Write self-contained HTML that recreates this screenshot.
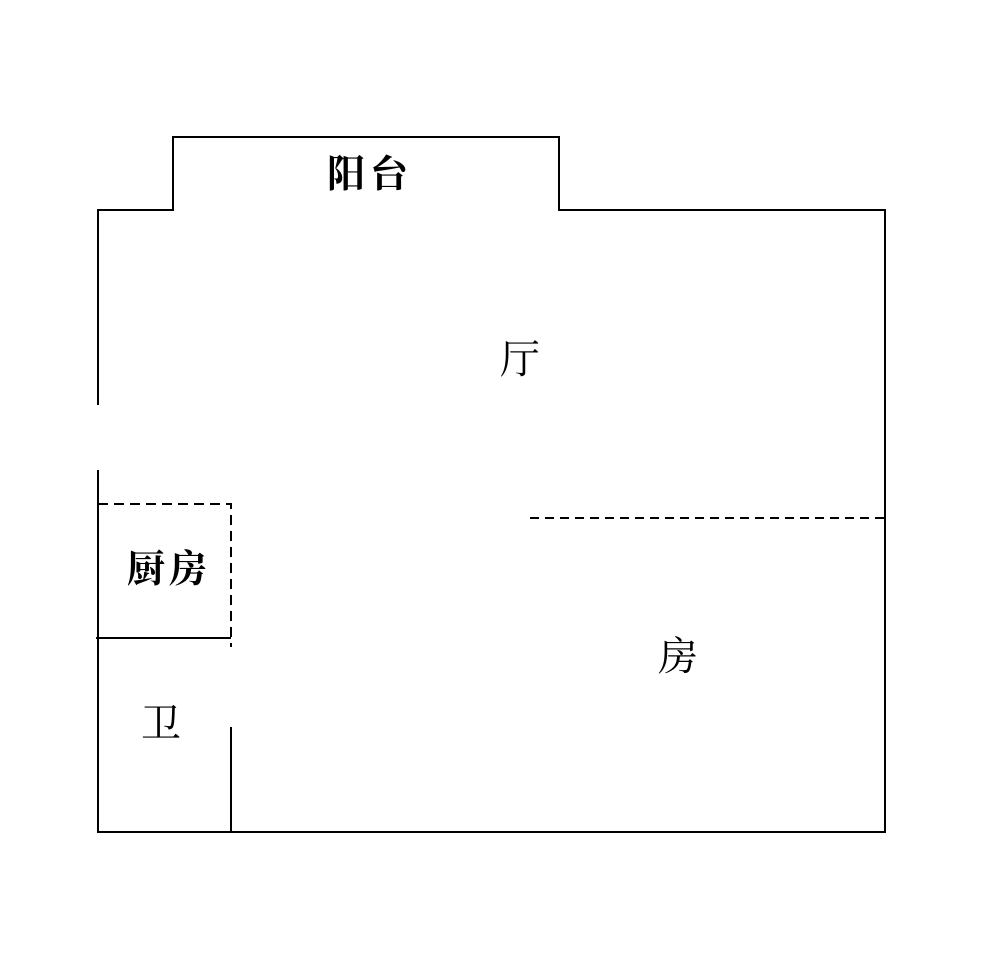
<!DOCTYPE html>
<html><head><meta charset="utf-8"><style>
html,body{margin:0;padding:0;background:#fff;}
</style></head><body>
<svg width="1000" height="952" viewBox="0 0 1000 952" xmlns="http://www.w3.org/2000/svg">
<g stroke="#000" stroke-width="2" fill="none">
<polyline points="98,405 98,210 173,210 173,137 559,137 559,210 885,210 885,832 98,832 98,470"/>
<line x1="96" y1="638" x2="231" y2="638"/>
<line x1="231" y1="727" x2="231" y2="832"/>
<polyline points="98,504 231,504 231,647" stroke-dasharray="10,6"/>
<line x1="530" y1="518" x2="885" y2="518" stroke-dasharray="9,6"/>
</g>
<g font-family="'Liberation Serif','Noto Serif CJK SC',serif" fill="#000">
<text x="327" y="187" font-size="38" font-weight="bold" letter-spacing="5">阳台</text>
<text x="500" y="373" font-size="40">厅</text>
<text x="127" y="582" font-size="38" font-weight="bold" letter-spacing="4">厨房</text>
<text x="658" y="670" font-size="40">房</text>
<text x="141" y="737" font-size="40">卫</text>
</g>
</svg>
</body></html>
